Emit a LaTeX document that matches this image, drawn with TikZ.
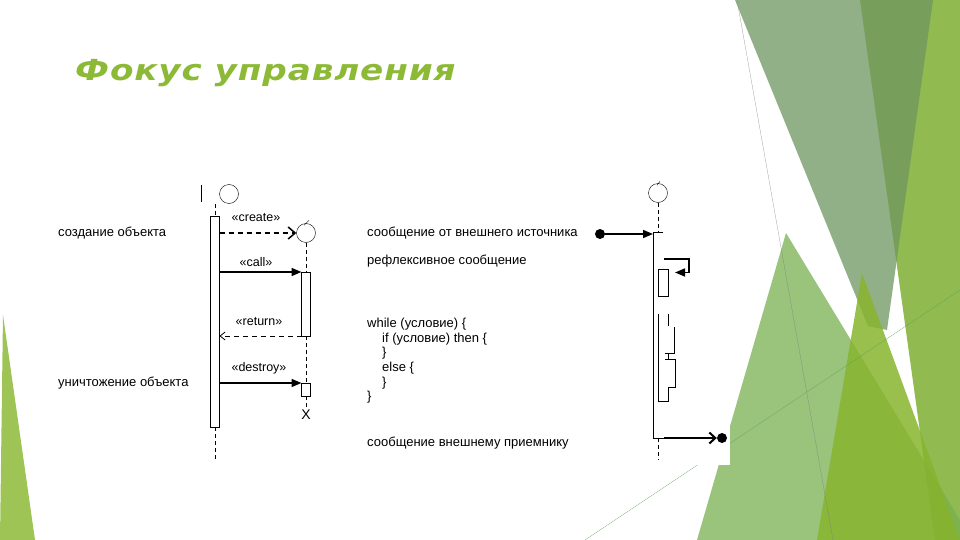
\documentclass[tikz,border=0pt]{standalone}
\usepackage{fontspec}
\setmainfont{Liberation Sans}
\newfontfamily\titlefont[FakeStretch=1.18, LetterSpace=3]{DejaVu Sans}
\usetikzlibrary{arrows.meta, positioning, calc}
\definecolor{facetgreen}{RGB}{140,186,55}
\definecolor{facetgray}{RGB}{110,150,95}
\definecolor{facetdark}{RGB}{139,182,72}
\definecolor{facetlight}{RGB}{120,175,80}
\definecolor{facetbright}{RGB}{135,180,45}
\tikzset{
    obj/.style = {circle, draw, thin, minimum size=19pt, inner sep=0pt},
    actbar/.style = {rectangle, draw, fill=white, minimum width=9pt, inner sep=0pt, outer sep=0pt},
    life/.style = {thin, dash pattern=on 4pt off 3pt},
    call/.style = {line width=1.6pt, -{Triangle[length=10pt,width=8pt]}},
    create/.style = {line width=1.5pt, dash pattern=on 5pt off 4pt, -{Straight Barb[length=7pt,width=12pt]}},
    ret/.style = {thick, dash pattern=on 5pt off 4pt, -{Straight Barb[length=5pt,width=8pt]}},
    sinkarrow/.style = {line width=2pt, -{Straight Barb[length=6pt,width=11pt]}},
    dot/.style = {circle, fill, minimum size=10pt, inner sep=0pt},
    stereo/.style = {font=\fontsize{12.5}{14}\selectfont, inner sep=0pt},
    note/.style = {anchor=base west, font=\fontsize{13}{15}\selectfont, inner sep=0pt}
}

\begin{document}
\begin{tikzpicture}[x=1pt, y=-1pt, >=stealth]
        \useasboundingbox (0,0) rectangle (960,540);

        % Slide background
        \fill[facetgreen!85!white] (3,315) -- (0,540) -- (35,540) -- cycle;
        \fill[facetdark, opacity=0.95] (860,0) -- (960,0) -- (960,540) -- (935,540) -- cycle;
        \fill[facetgray, opacity=0.75] (735,0) -- (933,0) -- (887,330) -- (868,326) -- cycle;
        \fill[facetlight, opacity=0.75] (786,233) -- (697,540) -- (960,540) -- (960,520) -- cycle;
        \fill[facetbright, opacity=0.85] (862,273) -- (817,540) -- (960,540) -- cycle;
        \draw[gray, very thin] (737,0) -- (833,540);
        \draw[gray!70!green, very thin] (585,540) -- (960,290);
        \fill[white] (40,150) rectangle (730,465);

        % Title
        \node[anchor=base west, inner sep=0pt, text=facetgreen,
              font=\titlefont\bfseries\itshape\fontsize{29}{34}\selectfont] (title) at (75,81) {Фокус управления};

        % Nodes
        \node[obj] (o1) at (229,194) {};
        \draw (201,185) -- (201,202);
        \node[actbar, minimum height=211pt, anchor=north] (bar1) at (215,216) {};
        \coordinate (end1) at (215,460);
        \node[obj] (o2) at (306,233) {};
        \draw ($(o2.north)+(-2,2)$) -- ++(5,-5);
        \node[actbar, minimum height=64pt, anchor=north] (bar2) at (306,272) {};
        \node[actbar, minimum height=13pt, anchor=north] (bar3) at (306,383) {};
        \node[font=\fontsize{14}{16}\selectfont, inner sep=0pt] (xmark) at (306,415) {X};

        \node[stereo] (lcreate) at (256,218) {«create»};
        \node[stereo] (lcall) at (256,262) {«call»};
        \node[stereo] (lreturn) at (259,322) {«return»};
        \node[stereo] (ldestroy) at (259,368) {«destroy»};

        \node[note] (ncreate) at (58,236.5) {создание объекта};
        \node[note] (ndestroy) at (58,386.5) {уничтожение объекта};
        \node[note] (nsource) at (367,236) {сообщение от внешнего источника};
        \node[note] (nself) at (367,264.5) {рефлексивное сообщение};
        \node[note] (c1) at (367,327.5) {while (условие) \{};
        \node[note] (c2) at (382,342) {if (условие) then \{};
        \node[note] (c3) at (382,356.5) {\}};
        \node[note] (c4) at (382,371) {else \{};
        \node[note] (c5) at (382,386) {\}};
        \node[note] (c6) at (367,400.5) {\}};
        \node[note] (nsink) at (367,446) {сообщение внешнему приемнику};

        \node[obj] (o3) at (658,193) {};
        \draw ($(o3.north)+(-1,2)$) -- ++(3,-4);
        \node[actbar, draw=none, fill=none, minimum width=10pt, minimum height=206pt, anchor=north] (bar4) at (658,232) {};
        \coordinate (end4) at (658,460);
        \node[dot] (src) at (600,234) {};
        \node[actbar, minimum width=10pt, minimum height=27pt, anchor=north] (bar5) at (663,269) {};
        \coordinate (self) at (664,259);
        \node[dot] (sink) at (722,438) {};

        % Edges
        \draw[life] (bar1.north |- o1.south) -- (bar1.north);
        \draw[life] (bar1.south) -- (end1);
        \draw[life] (o2) -- (bar2);
        \draw[life] (bar2) -- (bar3);
        \draw[life] (bar3) -- (xmark);
        \draw[create] (bar1.east |- o2.west) -- (o2.west);
        \draw[call] (bar1.east |- bar2.north west) -- (bar2.north west);
        \draw[ret] (bar2.south west) -- (bar1.east |- bar2.south west);
        \draw[call] (bar1.east |- bar3.north west) -- (bar3.north west);

        \draw[life] (o3) -- (bar4.north);
        \draw (bar4.north east) -- (bar4.north west) -- (bar4.south west) -- ([xshift=1pt]bar4.south east);
        \draw[life] (bar4.south) -- (end4);
        \draw[call] (src) -- (bar4.west |- src);
        \draw[call] (self) -- ++(25,0) |- ($(bar5.north east)+(7,3.5)$);
        \draw[sinkarrow] ([xshift=1pt]bar4.south east) -- (sink.west);

        % Nested loop / branches
        \draw (658,314) -- (658,401) -- (668,401) -- (668,387) -- (675,387) -- (675,359) -- (665,359);
        \draw (668,359) -- (668,353);
        \draw (665,353) -- (674,353) -- (674,327);
        \draw (668,314) -- (668,326);

    \end{tikzpicture}
\end{document}
